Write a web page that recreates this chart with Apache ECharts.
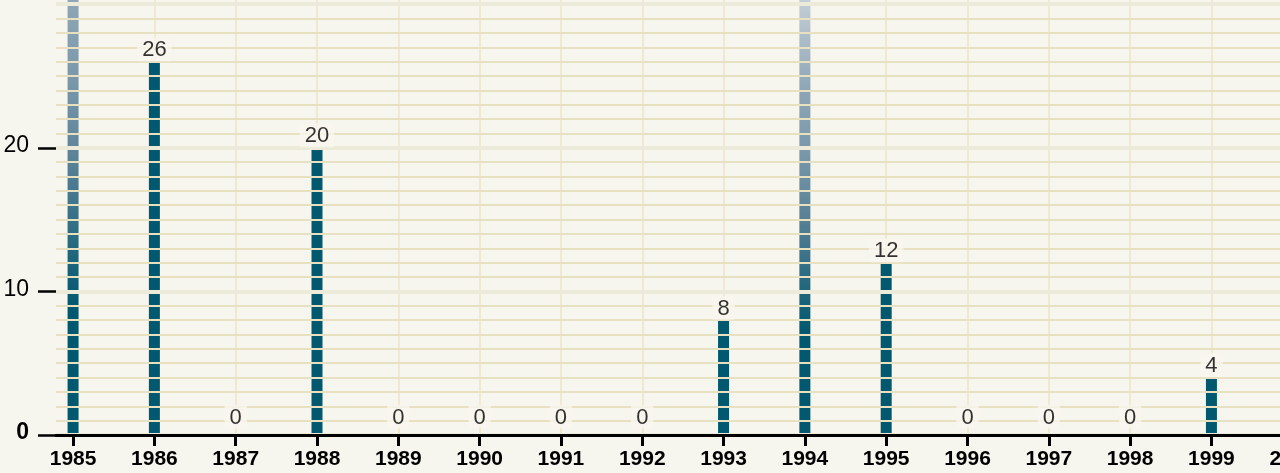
<!DOCTYPE html>
<html>
<head>
<meta charset="utf-8">
<script src="https://cdn.jsdelivr.net/npm/echarts@6/dist/echarts.min.js"></script>
<style>
  html, body { margin: 0; padding: 0; background: #f7f6ee; overflow: hidden; width: 1280px; height: 473px; }
  /* the plot runs past the top and right edges of the window */
  #chart { position: absolute; left: 0; top: -283px; width: 1320px; height: 756px; }
</style>
</head>
<body>
<div id="chart"></div>
<script>
// Yearly counts, 1985–1999
const years = [1985, 1986, 1987, 1988, 1989, 1990, 1991, 1992, 1993, 1994, 1995, 1996, 1997, 1998, 1999];
const counts = [45, 26, 0, 20, 0, 0, 0, 0, 8, 36, 12, 0, 0, 0, 4];

// Axis tick values
const yearTicks = [1985, 1986, 1987, 1988, 1989, 1990, 1991, 1992, 1993, 1994, 1995, 1996, 1997, 1998, 1999, 2000];
const countTicks = [0, 10, 20];

const BG = '#f7f6ee';
const INK = '#000000';
const BAR = '#02586f';
const FONT = '"Liberation Sans", Arial, sans-serif';
const VISIBLE_TOP = 30.3;

// Bars that run past the top of the view fade out toward their tips
function barColor(v) {
  if (v <= VISIBLE_TOP) return BAR;
  return {
    type: 'linear', x: 0, y: 0, x2: 0, y2: 1,
    colorStops: [
      { offset: 0, color: '#eef1f3' },
      { offset: 0.16, color: '#c3ced6' },
      { offset: 0.33, color: '#8ea6b5' },
      { offset: 0.45, color: '#7a98aa' },
      { offset: 0.56, color: '#5f8499' },
      { offset: 0.8, color: BAR },
      { offset: 1, color: BAR }
    ]
  };
}

const barData = years.map((y, i) => ({
  value: [y, counts[i]],
  itemStyle: { color: barColor(counts[i]) }
}));

const labelData = years.map((y, i) => ({
  value: [y, counts[i]],
  label: counts[i] === 0 ? { offset: [0, -6] } : {}
}));

const chart = echarts.init(document.getElementById('chart'), null, { renderer: 'canvas' });

chart.setOption({
  backgroundColor: BG,
  animation: false,
  grid: { left: 56, right: 11, top: 0, bottom: 38, containLabel: false },
  xAxis: [
    {
      // vertical guide lines, drawn beneath the bars
      type: 'value', min: 1984.79, max: 2000.2, z: 0,
      axisLine: { show: false },
      axisTick: { show: false, customValues: yearTicks },
      axisLabel: { show: false, customValues: yearTicks },
      splitLine: { show: true, lineStyle: { color: '#ebe5c6', width: 1.5 } }
    },
    {
      // baseline, year ticks and labels
      type: 'value', min: 1984.79, max: 2000.2, z: 8, position: 'bottom',
      axisLine: { show: true, lineStyle: { color: INK, width: 3 } },
      axisTick: { show: true, customValues: yearTicks, length: 11, lineStyle: { color: INK, width: 3 } },
      axisLabel: {
        show: true, customValues: yearTicks, margin: 14,
        formatter: v => String(v),
        fontFamily: FONT, fontSize: 21, fontWeight: 'bold', color: INK
      },
      splitLine: { show: false }
    }
  ],
  yAxis: [
    {
      // horizontal rules, laid over the bars
      type: 'value', min: 0, max: 50, interval: 10, z: 5,
      axisLine: { show: false },
      axisTick: { show: false },
      axisLabel: { show: false },
      splitLine: { show: true, lineStyle: { color: '#ecead8', width: 4 } },
      minorTick: { show: false, splitNumber: 10 },
      minorSplitLine: { show: true, lineStyle: { color: '#e7e0c1', width: 2 } }
    },
    {
      // count ticks and labels
      type: 'value', min: 0, max: 50, interval: 10, z: 7, position: 'left', offset: 0,
      axisLine: { show: false },
      axisTick: { show: true, customValues: countTicks, length: 18, lineStyle: { color: INK, width: 2.5 } },
      axisLabel: {
        show: true, customValues: countTicks, margin: 27,
        fontFamily: FONT, fontSize: 23, color: INK, padding: [0, 0, 4, 0],
        formatter: v => (v === 0 ? '{b|0}' : String(v)),
        rich: { b: { fontFamily: FONT, fontSize: 23, fontWeight: 'bold', color: INK } }
      },
      splitLine: { show: false }
    }
  ],
  series: [
    {
      type: 'bar', name: 'count',
      xAxisIndex: 0, yAxisIndex: 0,
      barWidth: 11, z: 2,
      data: barData
    },
    {
      // value labels, set on a background patch above the rules
      type: 'scatter', name: 'labels',
      xAxisIndex: 0, yAxisIndex: 0,
      symbolSize: 1, itemStyle: { color: 'rgba(0,0,0,0)' }, z: 10, silent: true,
      label: {
        show: true, position: 'top', distance: 0,
        formatter: p => String(p.value[1]),
        fontFamily: FONT, fontSize: 22, color: INK,
        backgroundColor: BG, padding: [2, 5, 0, 5]
      },
      data: labelData
    }
  ]
});
</script>
</body>
</html>
